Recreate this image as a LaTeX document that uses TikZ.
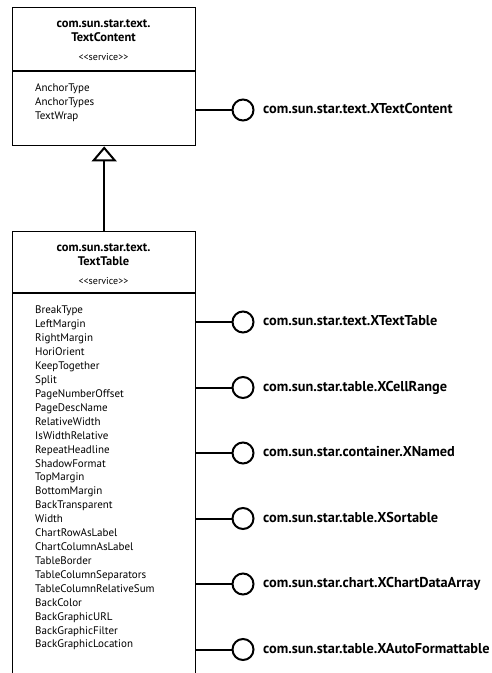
\documentclass[tikz,border=0pt]{standalone}
\usepackage{fontspec}
\setmainfont{PT Sans}
\usetikzlibrary{arrows.meta}
\begin{document}
\begin{tikzpicture}[x=1pt,y=-1pt,
  box/.style={draw, line width=1.4pt, anchor=north west, minimum width=183pt, inner sep=0pt},
  divider/.style={line width=1.2pt},
  title/.style={font=\bfseries\fontsize{12.5}{14}\selectfont, align=center, inner sep=0pt},
  stereo/.style={font=\fontsize{10}{11}\selectfont, inner sep=0pt},
  attr/.style={font=\fontsize{11}{12}\selectfont, anchor=west, inner sep=0pt, text height=7.8pt, text depth=2pt},
  iface/.style={draw, circle, line width=2pt, minimum size=21pt, inner sep=0pt},
  ilabel/.style={font=\bfseries\fontsize{14.3}{16}\selectfont, anchor=west, inner sep=0pt, text height=10pt, text depth=3pt},
  conn/.style={line width=2pt}]
\useasboundingbox (0,0) rectangle (492,673);

% TextContent service
\node[box, minimum height=138pt] (tc) at (12,7) {};
\draw[divider] (tc.west |- 0,71) -- (tc.east |- 0,71);
\node[title] (tcname) at (103.5,31) {com.sun.star.text.\\TextContent};
\node[stereo] (tcst) at (103.5,57) {<\kern0pt<service>\kern0pt>};
\foreach \t [count=\i] in {AnchorType,AnchorTypes,TextWrap}
  \node[attr] (ca\i) at (35,{89+(\i-1)*14}) {\t};

% TextTable service
\node[box, minimum height=470pt] (tt) at (12,231) {};
\draw[divider] (tt.west |- 0,293) -- (tt.east |- 0,293);
\node[title] (ttname) at (103.5,255) {com.sun.star.text.\\TextTable};
\node[stereo] (ttst) at (103.5,281) {<\kern0pt<service>\kern0pt>};
\foreach \t [count=\i] in {BreakType,LeftMargin,RightMargin,HoriOrient,KeepTogether,Split,PageNumberOffset,PageDescName,RelativeWidth,IsWidthRelative,RepeatHeadline,ShadowFormat,TopMargin,BottomMargin,BackTransparent,Width,ChartRowAsLabel,ChartColumnAsLabel,TableBorder,TableColumnSeparators,TableColumnRelativeSum,BackColor,BackGraphicURL,BackGraphicFilter,BackGraphicLocation}
  \node[attr] (ta\i) at (35,{311+(\i-1)*13.92}) {\t};

% inheritance
\draw[conn, -{Triangle[open, length=15pt, width=25pt]}] (tt.north) -- (tc.south);

% interfaces
\node[iface] (i0) at (243,110) {};
\node[ilabel] (l0) at (263,110) {com.sun.star.text.XTextContent};
\draw[conn] (i0.west -| tc.east) -- (i0.west);

\foreach \y/\n/\lab in {322/1/com.sun.star.text.XTextTable,
                        387.5/2/com.sun.star.table.XCellRange,
                        453/3/com.sun.star.container.XNamed,
                        518.5/4/com.sun.star.table.XSortable,
                        584/5/com.sun.star.chart.XChartDataArray,
                        649.5/6/com.sun.star.table.XAutoFormattable} {
  \node[iface] (i\n) at (243,\y) {};
  \node[ilabel] (l\n) at (263,\y) {\lab};
  \draw[conn] (i\n.west -| tt.east) -- (i\n.west);
}
\end{tikzpicture}
\end{document}
